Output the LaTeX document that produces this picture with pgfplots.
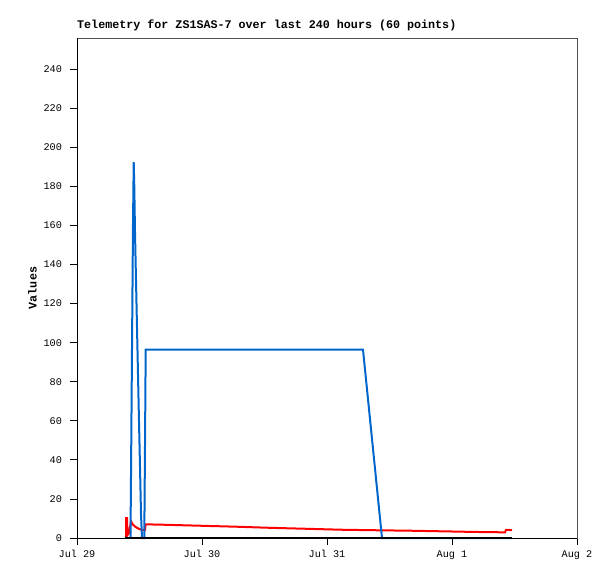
\documentclass[border=0pt]{standalone}
\usepackage{pgfplots}
\pgfplotsset{compat=1.18}
\usepackage{fontspec}
\setmainfont{Liberation Mono}
\definecolor{tblue}{HTML}{0066CC}
\definecolor{tred}{HTML}{FF0000}
\definecolor{boxgray}{HTML}{505050}
\begin{document}
\begin{tikzpicture}
\useasboundingbox (-77pt,-41pt) rectangle (538pt,538pt);
\begin{axis}[
    at={(0,0)}, anchor=south west,
    scale only axis,
    width=500pt, height=500pt,
    xmin=0, xmax=96,
    ymin=0, ymax=256,
    xtick={0,24,48,72,96},
    xticklabels={Jul 29,Jul 30,Jul 31,Aug 1,Aug 2},
    ytick={0,20,...,240},
    tick align=outside,
    major tick length=7pt,
    xtick pos=bottom, ytick pos=left,
    tick style={black, line width=0.8pt},
    axis line style={boxgray, line width=0.8pt},
    ticklabel style={font=\fontsize{10.2}{12}\selectfont},
    /pgf/number format/assume math mode=true,
    yticklabel style={xshift=-4.5pt},
    xticklabel style={yshift=-2pt},
    title={\bfseries Telemetry for ZS1SAS-7 over last 240 hours (60 points)},
    title style={at={(rel axis cs:0,1)}, anchor=base west, inner sep=0pt,
                 yshift=3pt, font=\fontsize{11.7}{13}\selectfont},
    ylabel={\bfseries Values},
    every axis y label/.style={at={([xshift=-40pt]rel axis cs:0,0.5)},
                 rotate=90, anchor=south, inner sep=0pt,
                 font=\fontsize{11.7}{13}\selectfont},
    clip=false,
]
    \draw[black, line width=0.8pt] (rel axis cs:0,1) -- (rel axis cs:0,0) -- (rel axis cs:1,0);

    % red series
    \addplot[tred, line width=2pt, mark=none] coordinates {
        (9.41,0) (9.45,10.2) (9.60,10.2) (9.70,1.5) (9.98,2.5)
        (10.37,8.5) (10.75,6.8) (11.14,5.9) (11.52,5.2) (11.90,4.7)
        (12.29,4.3) (12.77,4.0) (13.06,4.0) (13.15,7.0) (16.51,6.8)
        (23.42,6.3) (30.34,5.8) (37.25,5.2) (44.35,4.7) (51.26,4.2)
        (64.70,3.7) (76.42,3.1) (82.18,2.9) (82.37,4.2) (83.52,4.0)
    };

    % blue series
    \addplot[tblue, line width=2pt, mark=none] coordinates {
        (10.27,0) (10.37,32) (10.56,96.5) (10.75,160) (10.89,192.5)
        (11.00,180) (11.14,156) (11.33,132) (11.52,108) (11.71,84)
        (11.90,60) (12.10,36) (12.29,12) (12.48,0) (12.92,0)
        (13.06,48.5) (13.19,96.5) (54.91,96.5) (58.56,0) (83.52,0)
    };

    % black series
    \addplot[black, line width=2.4pt, mark=none] coordinates {
        (9.31,0) (83.52,0)
    };
\end{axis}
\end{tikzpicture}
\end{document}
